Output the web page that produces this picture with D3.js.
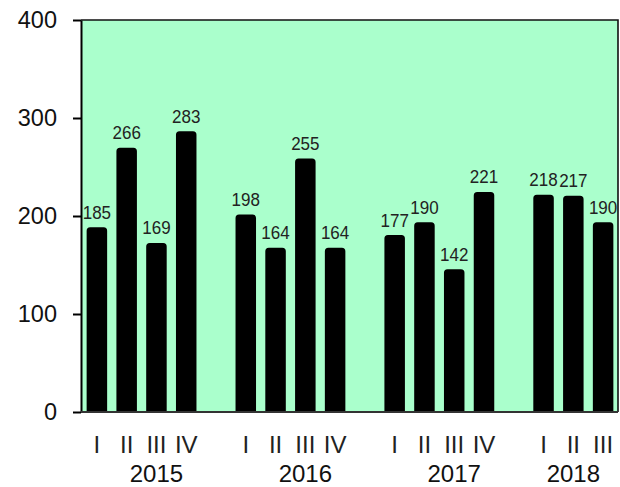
<!DOCTYPE html>
<html>
<head>
<meta charset="utf-8">
<script src="https://cdn.jsdelivr.net/npm/d3@7"></script>
<style>
  body { margin: 0; background: #fff; }
  text { font-family: "Liberation Sans", Arial, sans-serif; }
</style>
</head>
<body>
<div id="chart"></div>
<script>
// chart data
var years = ["2015", "2016", "2017", "2018"];
var quarters = ["I", "II", "III", "IV"];
var values2015 = [185, 266, 169, 283];
var values2016 = [198, 164, 255, 164];
var values2017 = [177, 190, 142, 221];
var values2018 = [218, 217, 190];
var yTicks = [0, 100, 200, 300, 400];

var seriesByYear = [values2015, values2016, values2017, values2018];

// build the list of slots: every quarter plus a blank slot after each year but the last
var slots = [];
var bars = [];
years.forEach(function (year, yi) {
  seriesByYear[yi].forEach(function (v, qi) {
    var key = year + "-" + quarters[qi];
    slots.push(key);
    bars.push({ key: key, year: year, quarter: quarters[qi], value: v });
  });
  if (yi < years.length - 1) slots.push(year + "-gap");
});

var width = 620, height = 487;
var margin = { top: 20, right: 2, bottom: 75, left: 81 };
var plotRight = width - margin.right;
var plotBottom = height - margin.bottom;

var svg = d3.select("#chart").append("svg")
  .attr("width", width)
  .attr("height", height);

var xScale = d3.scaleBand()
  .domain(slots)
  .range([margin.left + 1, plotRight])
  .padding(0);

var yScale = d3.scaleLinear()
  .domain([0, 400])
  .range([plotBottom, margin.top]);

// plot background
svg.append("rect")
  .attr("x", margin.left)
  .attr("y", margin.top)
  .attr("width", plotRight - margin.left)
  .attr("height", plotBottom - margin.top)
  .attr("fill", "#aaffcc");

svg.append("clipPath")
  .attr("id", "plot-clip")
  .append("rect")
  .attr("x", margin.left)
  .attr("y", 0)
  .attr("width", plotRight - margin.left)
  .attr("height", plotBottom);

var barWidth = 13.5;
var barStroke = 7;
function cx(key) { return xScale(key) + xScale.bandwidth() / 2; }

// bars with thick round-joined outline (gives the rounded look)
svg.append("g")
  .attr("clip-path", "url(#plot-clip)")
  .selectAll("rect.bar")
  .data(bars)
  .enter().append("rect")
  .attr("class", "bar")
  .attr("x", function (d) { return cx(d.key) - barWidth / 2; })
  .attr("y", function (d) { return yScale(d.value); })
  .attr("width", barWidth)
  .attr("height", function (d) { return yScale(0) - yScale(d.value); })
  .attr("fill", "#000")
  .attr("stroke", "#000")
  .attr("stroke-width", barStroke)
  .attr("stroke-linejoin", "round");

// value labels (slightly condensed like the original)
svg.selectAll("text.value")
  .data(bars)
  .enter().append("text")
  .attr("class", "value")
  .attr("transform", function (d) {
    return "translate(" + cx(d.key) + "," + (yScale(d.value) - barStroke / 2 - 8.5) + ") scale(0.92,1)";
  })
  .attr("text-anchor", "middle")
  .attr("font-size", "18.5px")
  .attr("fill", "#222")
  .text(function (d) { return d.value; });

// top and right border
svg.append("path")
  .attr("d", "M" + margin.left + "," + margin.top + "H" + plotRight + "V" + plotBottom)
  .attr("fill", "none")
  .attr("stroke", "#111")
  .attr("stroke-width", 1.6);

// y axis
var yAxis = d3.axisLeft(yScale)
  .tickValues(yTicks)
  .tickSize(8)
  .tickPadding(16)
  .tickSizeOuter(0);

var yg = svg.append("g")
  .attr("transform", "translate(" + margin.left + ",0)")
  .call(yAxis);
yg.select(".domain").attr("stroke", "#000").attr("stroke-width", 2);
yg.selectAll(".tick line").attr("stroke", "#000").attr("stroke-width", 2);
yg.selectAll(".tick text")
  .attr("font-size", "23.5px")
  .attr("font-family", "Liberation Sans, Arial, sans-serif")
  .attr("fill", "#111");

// x axis line
svg.append("line")
  .attr("x1", margin.left)
  .attr("x2", plotRight)
  .attr("y1", plotBottom)
  .attr("y2", plotBottom)
  .attr("stroke", "#333")
  .attr("stroke-width", 2);

// quarter labels
svg.selectAll("text.quarter")
  .data(bars)
  .enter().append("text")
  .attr("class", "quarter")
  .attr("x", function (d) { return cx(d.key); })
  .attr("y", plotBottom + 41)
  .attr("text-anchor", "middle")
  .attr("font-size", "24px")
  .attr("fill", "#222")
  .text(function (d) { return d.quarter; });

// year labels, centred on the year's slots including its trailing blank slot
svg.selectAll("text.year")
  .data(years)
  .enter().append("text")
  .attr("class", "year")
  .attr("x", function (year) {
    var own = slots.filter(function (k) { return k.indexOf(year) === 0; });
    return (cx(own[0]) + cx(own[own.length - 1])) / 2;
  })
  .attr("y", plotBottom + 70)
  .attr("text-anchor", "middle")
  .attr("font-size", "24px")
  .attr("fill", "#111")
  .text(function (d) { return d; });
</script>
</body>
</html>
